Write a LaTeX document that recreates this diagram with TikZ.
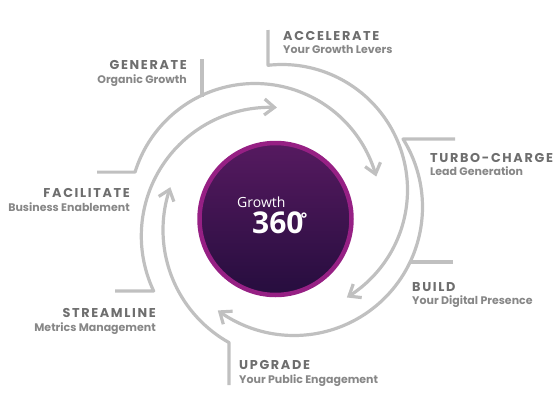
\documentclass[tikz,border=0pt]{standalone}
\usepackage{fontspec}
\setmainfont{Poppins}
\newfontfamily\circfont{Open Sans}
\usetikzlibrary{arrows.meta}
\definecolor{arcgray}{RGB}{192,192,192}
\definecolor{titlegray}{RGB}{110,110,110}
\definecolor{subgray}{RGB}{135,135,135}
\definecolor{rimcol}{RGB}{150,32,132}
\definecolor{purpletop}{RGB}{86,26,96}
\definecolor{purplebot}{RGB}{38,13,62}
\begin{document}
\begin{tikzpicture}[x=1pt,y=-1pt,
  arcline/.style={draw=arcgray, line width=3.2pt, line join=round},
  arrowarc/.style={arcline, -{Straight Barb[length=10pt,width=16pt]}},
  titletext/.style={text=titlegray, inner sep=0pt,
    font=\fontsize{12.8}{14}\selectfont\bfseries\addfontfeature{LetterSpace=13}},
  subtext/.style={text=subgray, inner sep=0pt,
    font=\fontsize{11}{12}\selectfont\bfseries},
]
\useasboundingbox (0,0) rectangle (560,415);

% central circle
\shade[top color=purpletop, bottom color=purplebot] (275.5,219) circle[radius=76];
\draw[rimcol, line width=4.5pt] (275.5,219) circle[radius=76];
\node[inner sep=0pt, anchor=base west, text=white, font=\circfont\fontsize{14}{16}\selectfont] (growth) at (237,207) {Growth};
\node[inner sep=0pt, anchor=base west, text=white, font=\circfont\fontsize{30}{30}\selectfont\bfseries] (num) at (252,233.5) {360\kern-3pt\raisebox{9pt}{\fontsize{16}{16}\selectfont °}};

% path 1: FACILITATE -> top-right arrow
\draw[arrowarc] (97,172.1) -- plot[domain=197.1:345, samples=90] ({255+125.5*cos(\x)},{209+125.5*sin(\x)});
\draw[arcline] (202,59) -- (202,96.5);
% path 2: STREAMLINE -> top arrow
\draw[arrowarc] (115,291) -- plot[domain=154.7:273.1, samples=80] ({270+128.7*cos(\x)},{236+128.7*sin(\x)});
% path 3: UPGRADE -> left arrow
\draw[arrowarc] (229,385) -- plot[domain=119.2:199.4, samples=60] ({292+129*cos(\x)},{230+129*sin(\x)});
% path 4: TURBO-CHARGE -> bottom-left arrow
\draw[arrowarc] (455,139) -- plot[domain=-31.95:126.4, samples=100] ({294+128.5*cos(\x)},{207+128.5*sin(\x)});
\draw[arcline] (453,262) -- (409,262);
% path 5: ACCELERATE -> bottom-right arrow
\draw[arrowarc] (268,30) -- plot[domain=-96.4:58.9, samples=100] ({282+125.5*cos(\x)},{190+125.5*sin(\x)});

% labels
\node[titletext, anchor=base east] (genT) at (187,69) {GENERATE};
\node[subtext, anchor=base east] (genS) at (187,83) {Organic Growth};
\node[titletext, anchor=base west] (accT) at (283,40) {ACCELERATE};
\node[subtext, anchor=base west] (accS) at (283,53) {Your Growth Levers};
\node[titletext, anchor=base west] (turT) at (430,162) {TURBO-CHARGE};
\node[subtext, anchor=base west] (turS) at (430,175) {Lead Generation};
\node[titletext, anchor=base west] (bldT) at (412,291) {BUILD};
\node[subtext, anchor=base west] (bldS) at (412,304) {Your Digital Presence};
\node[titletext, anchor=base west] (upgT) at (239,369) {UPGRADE};
\node[subtext, anchor=base west] (upgS) at (239,383) {Your Public Engagement};
\node[titletext, anchor=base east] (strT) at (156,317) {STREAMLINE};
\node[subtext, anchor=base east] (strS) at (156,331) {Metrics Management};
\node[titletext, anchor=base east] (facT) at (130,197) {FACILITATE};
\node[subtext, anchor=base east] (facS) at (130,211) {Business Enablement};
\end{tikzpicture}
\end{document}
